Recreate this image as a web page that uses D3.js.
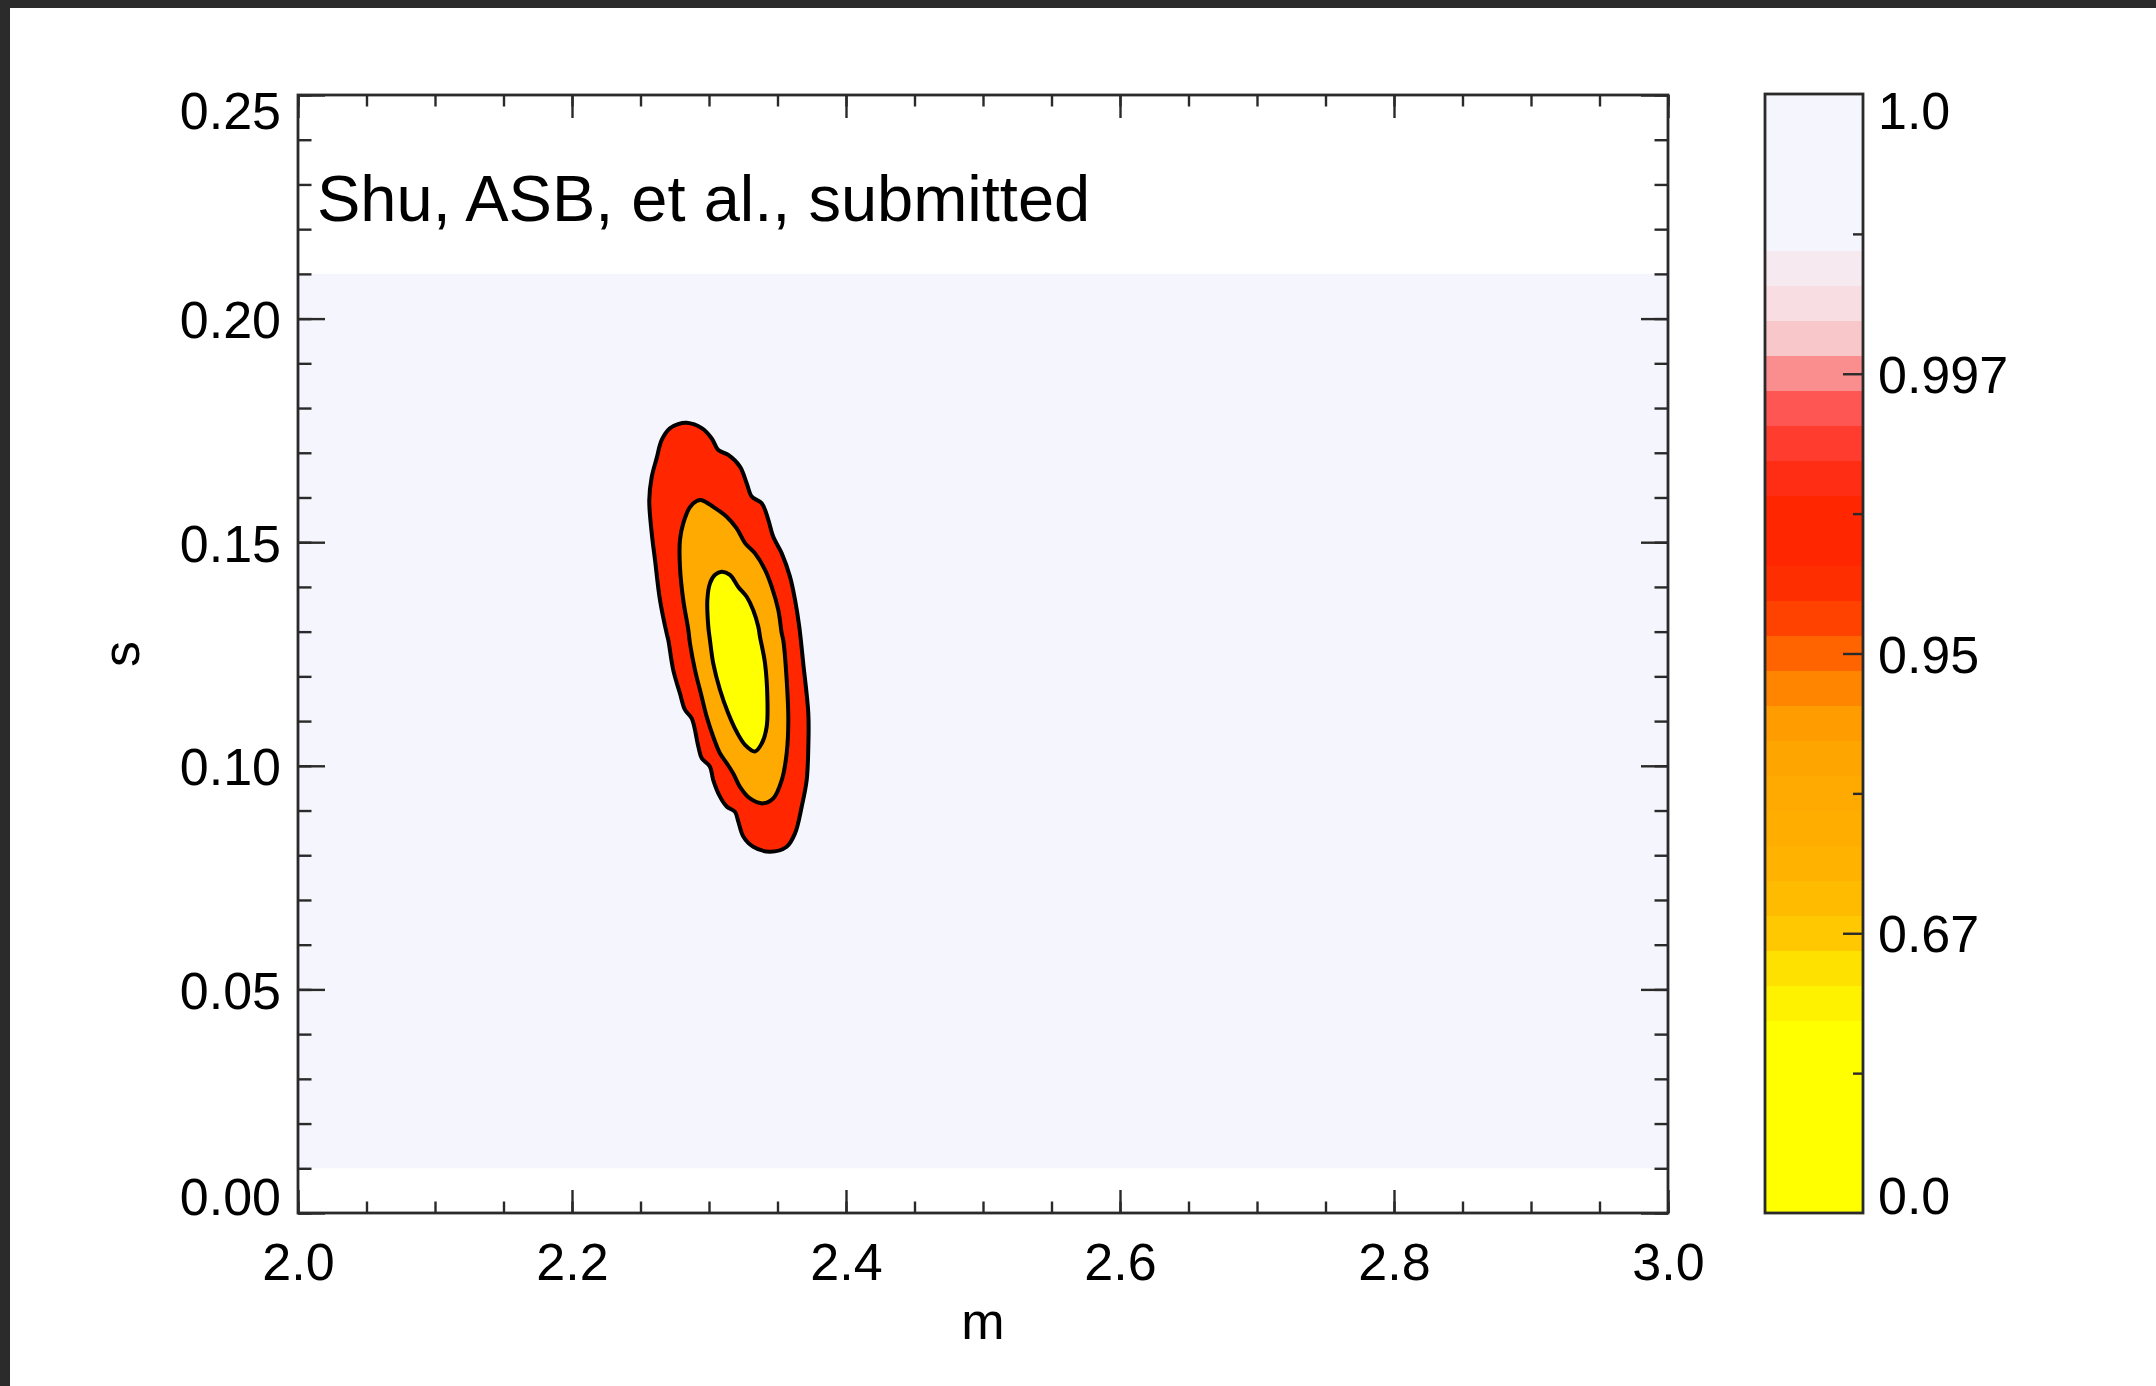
<!DOCTYPE html>
<html>
<head>
<meta charset="utf-8">
<script src="https://cdn.jsdelivr.net/npm/d3@7"></script>
<style>
  html, body { margin: 0; padding: 0; background: #fff; }
  svg { display: block; font-family: "Liberation Sans", Arial, Helvetica, sans-serif; }
</style>
</head>
<body>
<div id="chart"></div>
<script>
// axis ticks
const mTicks = [2.0, 2.2, 2.4, 2.6, 2.8, 3.0];
const sTicks = [0.00, 0.05, 0.10, 0.15, 0.20, 0.25];

// extent of the evaluated grid (lavender area)
const gridM = [2.0, 3.0];
const gridS = [0.01, 0.21];

// contour outlines (m, s)
const contour997 = [
  [2.2715, 0.1755], [2.2774, 0.1764], [2.2837, 0.1767], [2.2947, 0.1755], [2.3020, 0.1732], [2.3068, 0.1706],
  [2.3141, 0.1695], [2.3226, 0.1669], [2.3275, 0.1632], [2.3312, 0.1602], [2.3385, 0.1587],
  [2.3433, 0.1550], [2.3469, 0.1512], [2.3531, 0.1475], [2.3591, 0.1423], [2.3628, 0.1371],
  [2.3659, 0.1311], [2.3688, 0.1229], [2.3725, 0.1117], [2.3725, 0.1043], [2.3713, 0.0968],
  [2.3677, 0.0909], [2.3628, 0.0849], [2.3567, 0.0819], [2.3445, 0.0808], [2.3323, 0.0819],
  [2.3250, 0.0842], [2.3214, 0.0875], [2.3190, 0.0897], [2.3129, 0.0909], [2.3080, 0.0931],
  [2.3031, 0.0968], [2.3007, 0.0998], [2.2947, 0.1017], [2.2922, 0.1043], [2.2874, 0.1106],
  [2.2825, 0.1125], [2.2788, 0.1162], [2.2739, 0.1214], [2.2703, 0.1281], [2.2691, 0.1296],
  [2.2642, 0.1371], [2.2606, 0.1460], [2.2582, 0.1520], [2.2564, 0.1594], [2.2582, 0.1646],
  [2.2618, 0.1688], [2.2655, 0.1729]
];
const contour95 = [
  [2.2910, 0.1592], [2.2947, 0.1594], [2.3031, 0.1579], [2.3129, 0.1557], [2.3202, 0.1531], [2.3263, 0.1498],
  [2.3336, 0.1475], [2.3409, 0.1438], [2.3458, 0.1400], [2.3506, 0.1348], [2.3531, 0.1296],
  [2.3542, 0.1281], [2.3567, 0.1192], [2.3579, 0.1102], [2.3567, 0.1028], [2.3531, 0.0968],
  [2.3469, 0.0927], [2.3396, 0.0916], [2.3299, 0.0927], [2.3226, 0.0953], [2.3177, 0.0983],
  [2.3129, 0.1006], [2.3080, 0.1028], [2.3031, 0.1065], [2.2983, 0.1110], [2.2947, 0.1154],
  [2.2898, 0.1214], [2.2861, 0.1274], [2.2849, 0.1304], [2.2812, 0.1371], [2.2788, 0.1445],
  [2.2788, 0.1505], [2.2812, 0.1542], [2.2860, 0.1578]
];
const contour67 = [
  [2.3093, 0.1434], [2.3153, 0.1427], [2.3214, 0.1400], [2.3275, 0.1378], [2.3323, 0.1348],
  [2.3360, 0.1311], [2.3372, 0.1289], [2.3409, 0.1229], [2.3426, 0.1154], [2.3421, 0.1087],
  [2.3385, 0.1050], [2.3336, 0.1032], [2.3263, 0.1047], [2.3202, 0.1076], [2.3141, 0.1117],
  [2.3080, 0.1170], [2.3031, 0.1229], [2.3007, 0.1281], [2.2995, 0.1311], [2.2988, 0.1371],
  [2.3007, 0.1408], [2.3044, 0.1427]
];

// colour bar (index scale 0..8, labels at the major ticks)
const cbTickIdx = [0, 2, 4, 6, 8];
const cbTickLabels = ["0.0", "0.67", "0.95", "0.997", "1.0"];
const cbMinorIdx = [1, 3, 5, 7];
const cbStops = [0, 1.375, 1.625, 1.875, 2.125, 2.375, 2.625, 2.875, 3.125, 3.375, 3.625,
  3.875, 4.125, 4.375, 4.625, 4.875, 5.125, 5.375, 5.625, 5.875, 6.125, 6.375, 6.625, 6.875, 8];
const cbColors = ["#FFFF00", "#FFF200", "#FFE100", "#FFC800", "#FFBB00", "#FFB300", "#FFAE00",
  "#FFAA00", "#FFA500", "#FF9C00", "#FF8500", "#FF6400", "#FF4200", "#FF2E00", "#FF2600",
  "#FF2600", "#FF2D14", "#FF3C2D", "#FE5652", "#FA8E8F", "#F8C7CA", "#F8DEE2", "#F6EAF0", "#F5F6FD"];

const W = 2156, H = 1386;
const plot = {left: 298, right: 1668, top: 95, bottom: 1213};
const bar = {left: 1765, right: 1863, top: 94, bottom: 1213};
const fontSize = 52;
const axisColor = "#2a2a2a";

const svg = d3.select("#chart").append("svg")
  .attr("width", W).attr("height", H);

svg.append("rect").attr("width", W).attr("height", H).attr("fill", "#fff");

// window chrome
svg.append("rect").attr("x", 0).attr("y", 0).attr("width", W).attr("height", 8).attr("fill", "#2b2b2b");
svg.append("rect").attr("x", 0).attr("y", 0).attr("width", 10).attr("height", H).attr("fill", "#2b2b2b");

const x = d3.scaleLinear().domain([2.0, 3.0]).range([plot.left, plot.right]);
const y = d3.scaleLinear().domain([0, 0.25]).range([plot.bottom, plot.top]);

// grid background
svg.append("rect")
  .attr("x", x(gridM[0])).attr("y", y(gridS[1]))
  .attr("width", x(gridM[1]) - x(gridM[0]))
  .attr("height", y(gridS[0]) - y(gridS[1]))
  .attr("fill", "#F5F6FD");

// filled contours
const line = d3.line()
  .x(d => x(d[0])).y(d => y(d[1]))
  .curve(d3.curveCatmullRomClosed.alpha(0.5));

const levels = [
  {pts: contour997, fill: "#FF2600"},
  {pts: contour95, fill: "#FFAA00"},
  {pts: contour67, fill: "#FFFF00"}
];
svg.append("g").selectAll("path").data(levels).join("path")
  .attr("d", d => line(d.pts))
  .attr("fill", d => d.fill)
  .attr("stroke", "#000")
  .attr("stroke-width", 4)
  .attr("stroke-linejoin", "round");

// axes: IDL style, ticks pointing inward on all four sides
const mMinor = d3.range(2.0, 3.0001, 0.05);
const sMinor = d3.range(0, 0.2501, 0.01);
const xTickLen = 23, yTickLen = 27;

function styleAxis(g) {
  g.select(".domain").remove();
  g.selectAll(".tick line").attr("stroke", axisColor).attr("stroke-width", 2.4);
  g.selectAll("text").attr("font-size", fontSize).attr("fill", "#000");
}

svg.append("g").attr("transform", `translate(0,${plot.bottom})`)
  .call(d3.axisBottom(x).tickValues(mMinor).tickSize(-xTickLen / 2).tickFormat(""))
  .call(styleAxis);
svg.append("g").attr("transform", `translate(0,${plot.bottom})`)
  .call(d3.axisBottom(x).tickValues(mTicks).tickSize(-xTickLen).tickPadding(30).tickFormat(d3.format(".1f")))
  .call(styleAxis)
  .call(g => g.selectAll("text").attr("dy", "0.72em"));

svg.append("g").attr("transform", `translate(0,${plot.top})`)
  .call(d3.axisTop(x).tickValues(mMinor).tickSize(-xTickLen / 2).tickFormat(""))
  .call(styleAxis);
svg.append("g").attr("transform", `translate(0,${plot.top})`)
  .call(d3.axisTop(x).tickValues(mTicks).tickSize(-xTickLen).tickFormat(""))
  .call(styleAxis);

svg.append("g").attr("transform", `translate(${plot.left},0)`)
  .call(d3.axisLeft(y).tickValues(sMinor).tickSize(-yTickLen / 2).tickFormat(""))
  .call(styleAxis);
svg.append("g").attr("transform", `translate(${plot.left},0)`)
  .call(d3.axisLeft(y).tickValues(sTicks).tickSize(-yTickLen).tickPadding(17).tickFormat(d3.format(".2f")))
  .call(styleAxis)
  .call(g => g.selectAll("text")
    .attr("dy", null)
    // end labels are kept inside the axis span
    .attr("y", d => Math.min(Math.max(19, plot.top + 33 - y(d)), plot.bottom + 1 - y(d))));

svg.append("g").attr("transform", `translate(${plot.right},0)`)
  .call(d3.axisRight(y).tickValues(sMinor).tickSize(-yTickLen / 2).tickFormat(""))
  .call(styleAxis);
svg.append("g").attr("transform", `translate(${plot.right},0)`)
  .call(d3.axisRight(y).tickValues(sTicks).tickSize(-yTickLen).tickFormat(""))
  .call(styleAxis);

// frame
svg.append("rect")
  .attr("x", plot.left).attr("y", plot.top)
  .attr("width", plot.right - plot.left).attr("height", plot.bottom - plot.top)
  .attr("fill", "none").attr("stroke", axisColor).attr("stroke-width", 2.8);

// axis titles
svg.append("text")
  .attr("x", (plot.left + plot.right) / 2).attr("y", 1339)
  .attr("text-anchor", "middle").attr("font-size", fontSize)
  .text("m");
svg.append("text")
  .attr("transform", `translate(139,${(plot.top + plot.bottom) / 2}) rotate(-90)`)
  .attr("text-anchor", "middle").attr("font-size", fontSize)
  .text("s");

// annotation
svg.append("text")
  .attr("x", 317).attr("y", 221)
  .attr("font-size", 65)
  .text("Shu, ASB, et al., submitted");

// colour bar
const cb = d3.scaleLinear().domain([0, 8]).range([bar.bottom, bar.top]);
const bands = cbColors.map((c, i) => ({lo: cbStops[i], hi: cbStops[i + 1], color: c}));
svg.append("g").selectAll("rect").data(bands).join("rect")
  .attr("x", bar.left).attr("width", bar.right - bar.left)
  .attr("y", d => cb(d.hi)).attr("height", d => cb(d.lo) - cb(d.hi))
  .attr("fill", d => d.color)
  .attr("shape-rendering", "crispEdges");

svg.append("g").attr("transform", `translate(${bar.right},0)`)
  .call(d3.axisLeft(cb).tickValues(cbMinorIdx).tickSize(10).tickFormat(""))
  .call(styleAxis);
svg.append("g").attr("transform", `translate(${bar.right},0)`)
  .call(d3.axisLeft(cb).tickValues(cbTickIdx.slice(1, 4)).tickSize(20).tickFormat(""))
  .call(styleAxis);

svg.append("rect")
  .attr("x", bar.left).attr("y", bar.top)
  .attr("width", bar.right - bar.left).attr("height", bar.bottom - bar.top)
  .attr("fill", "none").attr("stroke", axisColor).attr("stroke-width", 2.8);

svg.append("g").selectAll("text").data(cbTickIdx).join("text")
  .attr("x", bar.right + 15)
  .attr("y", d => Math.min(Math.max(cb(d) + 19, bar.top + 35), bar.bottom + 1))
  .attr("font-size", fontSize)
  .text((d, i) => cbTickLabels[i]);
</script>
</body>
</html>
